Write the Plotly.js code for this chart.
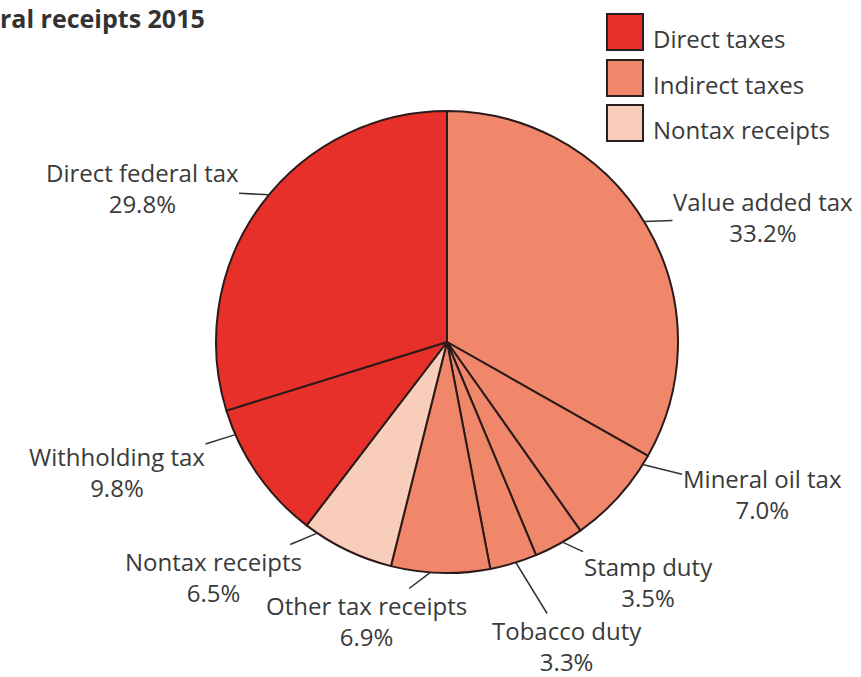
<!DOCTYPE html>
<html>
<head>
<meta charset="utf-8">
<script src="https://cdn.plot.ly/plotly-3.0.1.min.js"></script>
<style>html,body{margin:0;padding:0;background:#fff}#chart{width:861px;height:677px}</style>
</head>
<body>
<div id="chart"></div>
<script>
// ---- data ----
const sliceLabels = ["Value added tax","Mineral oil tax","Stamp duty","Tobacco duty","Other tax receipts","Nontax receipts","Withholding tax","Direct federal tax"];
const sliceValues = [33.2, 7.0, 3.5, 3.3, 6.9, 6.5, 9.8, 29.8];
const sliceGroups = ["Indirect taxes","Indirect taxes","Indirect taxes","Indirect taxes","Indirect taxes","Nontax receipts","Direct taxes","Direct taxes"];
const legendLabels = ["Direct taxes","Indirect taxes","Nontax receipts"];
const chartTitle = "ral receipts 2015";

// ---- styles / layout ----
const groupColors = {"Direct taxes":"#e8302b","Indirect taxes":"#f0866a","Nontax receipts":"#f8cdb9"};
const W = 861, H = 677;
const cx = 447, cy = 342, R = 231;
const FONT = "Open Sans, Noto Sans, sans-serif";
const TXT = "#3a3a3a";
// leader anchor position within each slice (fraction of slice angle) and label block centre (px)
const leaderFrac = [0.49, 0.1, 0.42, 0.45, 0.6, 0.86, 0.82, 0.53];
const labelPos = [[763,217],[762,494],[648,582],[567,646],[366,621],[213,577],[117,472],[142,188]];

const total = sliceValues.reduce((a,b)=>a+b,0);
const annotations = [];
let cum = 0;
sliceValues.forEach((v,i)=>{
  const ang = (cum + v*leaderFrac[i]) / total * 2*Math.PI;
  cum += v;
  const px = cx + R*Math.sin(ang), py = cy - R*Math.cos(ang);
  annotations.push({
    xref:"paper", yref:"paper", x:px/W, y:1-py/H,
    ax:labelPos[i][0]-px, ay:labelPos[i][1]-py,
    text: sliceLabels[i] + "<br>" + v.toFixed(1) + "%",
    showarrow:true, arrowhead:0, arrowwidth:1.5, arrowcolor:"#333", standoff:0,
    font:{family:FONT, size:24, color:TXT}, align:"center", borderpad:0
  });
});

// legend
const shapes = [];
const sqX0 = 607, sqSize = 36, sqY0 = [14, 60, 105];
legendLabels.forEach((lab,i)=>{
  shapes.push({type:"rect", xref:"paper", yref:"paper",
    x0:sqX0/W, x1:(sqX0+sqSize)/W, y0:1-(sqY0[i]+sqSize)/H, y1:1-sqY0[i]/H,
    fillcolor:groupColors[lab], line:{color:"#2b2020", width:2}});
  annotations.push({xref:"paper", yref:"paper", x:651/W, y:1-(sqY0[i]+sqSize/2+6)/H,
    xanchor:"left", yanchor:"middle", showarrow:false, text:lab,
    font:{family:FONT, size:24, color:TXT}});
});

const trace = {
  type:"pie", labels:sliceLabels, values:sliceValues, sort:false,
  direction:"clockwise", rotation:0, textinfo:"none", hoverinfo:"label+percent",
  marker:{colors:sliceGroups.map(g=>groupColors[g]), line:{color:"#2b1a1a", width:2}},
  domain:{x:[(cx-R)/W,(cx+R)/W], y:[(H-cy-R)/H,(H-cy+R)/H]},
  showlegend:false
};

const layout = {
  width:W, height:H, margin:{l:0,r:0,t:0,b:0},
  paper_bgcolor:"#fff", plot_bgcolor:"#fff", showlegend:false,
  title:{text:"<b>"+chartTitle+"</b>", xref:"container", yref:"container",
    x:0, xanchor:"left", y:1-19/H, yanchor:"middle", pad:{l:0,r:0,t:0,b:0},
    font:{family:FONT, size:25, color:"#333"}},
  annotations:annotations, shapes:shapes
};
Plotly.newPlot("chart",[trace],layout,{displayModeBar:false, staticPlot:true});
</script>
</body>
</html>
